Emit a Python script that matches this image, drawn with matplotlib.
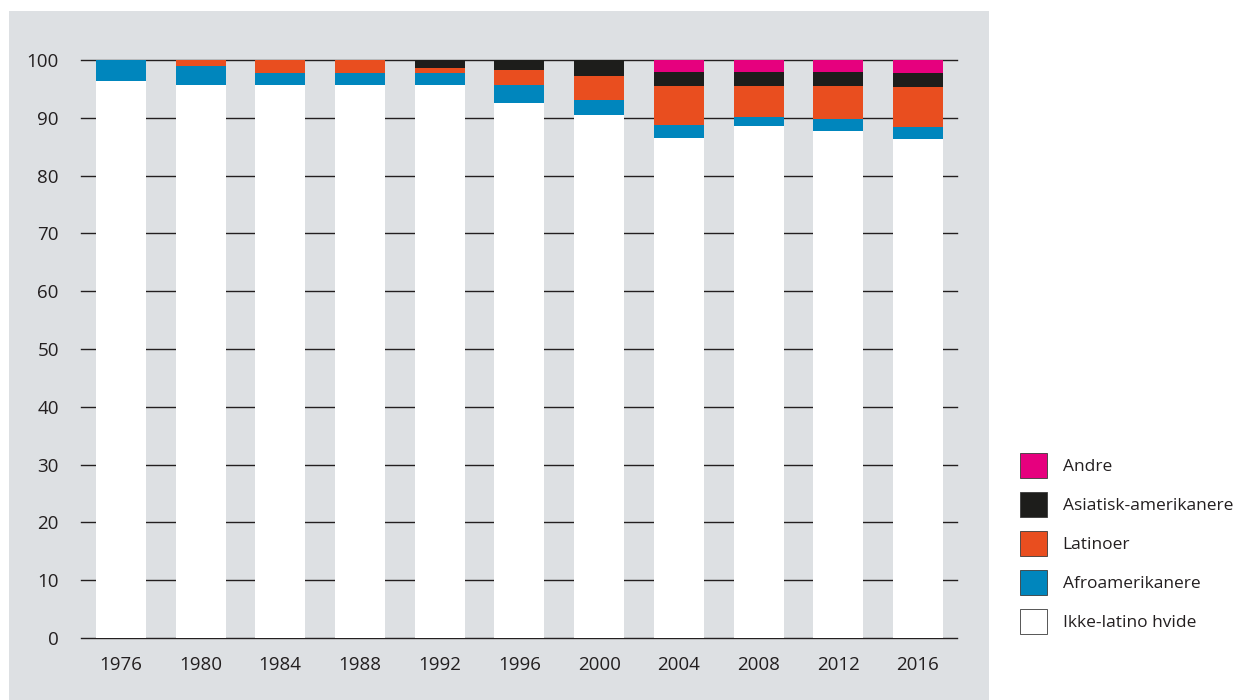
import matplotlib.pyplot as plt
import numpy as np
from matplotlib.patches import Patch, Rectangle

plt.rcParams['font.family'] = ['Open Sans', 'DejaVu Sans']

# Data (percent of voters)
years = ['1976', '1980', '1984', '1988', '1992', '1996', '2000', '2004', '2008', '2012', '2016']
hvide = [96.4, 95.7, 95.7, 95.7, 95.7, 92.6, 90.5, 86.5, 88.6, 87.7, 86.3]
afro = [3.6, 3.2, 2.05, 2.05, 2.05, 3.1, 2.6, 2.25, 1.5, 2.1, 2.1]
latino = [0.0, 1.1, 2.25, 2.25, 0.95, 2.6, 4.1, 6.75, 5.4, 5.7, 6.9]
asiat = [0.0, 0.0, 0.0, 0.0, 1.3, 1.7, 2.8, 2.4, 2.4, 2.4, 2.45]
andre = [0.0, 0.0, 0.0, 0.0, 0.0, 0.0, 0.0, 2.1, 2.1, 2.1, 2.25]

series = [
    ('Ikke-latino hvide', hvide, '#ffffff'),
    ('Afroamerikanere', afro, '#0086bd'),
    ('Latinoer', latino, '#e94e1f'),
    ('Asiatisk-amerikanere', asiat, '#1d1d1b'),
    ('Andre', andre, '#e6007e'),
]

fig = plt.figure(figsize=(12.49, 7), dpi=100)
fig.patch.set_facecolor('white')
# grey panel behind the plot
fig.patches.append(Rectangle((9 / 1249, 0), 980 / 1249, 689 / 700,
                             transform=fig.transFigure, facecolor='#dde0e3',
                             edgecolor='none', zorder=-5))

ax = fig.add_axes([81 / 1249, 62 / 700, 876 / 1249, 578 / 700])
ax.set_facecolor('none')

x = np.arange(len(years))
bottom = np.zeros(len(years))
for name, vals, col in series:
    vals = np.array(vals)
    ax.bar(x, vals, bottom=bottom, width=0.627, color=col, edgecolor='none', zorder=3)
    bottom += vals

ax.set_xlim(-0.5, 10.49)
ax.set_ylim(0, 100)
ax.set_yticks(range(0, 101, 10))
ax.set_xticks(x)
ax.set_xticklabels(years)
ax.yaxis.grid(True, color='#231f20', linewidth=1.0, zorder=1)
ax.set_axisbelow(True)
for gl in ax.get_ygridlines():
    gl.set_clip_on(False)
for s in ax.spines.values():
    s.set_visible(False)
ax.tick_params(axis='both', length=0, labelsize=13.5, colors='#231f20')
ax.tick_params(axis='y', pad=16)
ax.tick_params(axis='x', pad=13)

handles = [Patch(facecolor=col, edgecolor='#3a3a3a', linewidth=0.6, label=name)
           for name, vals, col in series][::-1]
fig.legend(handles=handles, loc='upper left', bbox_to_anchor=(1011 / 1249, 1 - 444 / 700),
           frameon=False, fontsize=12.5, handlelength=1.55, handleheight=1.85,
           labelspacing=0.8, handletextpad=0.92, borderpad=0, labelcolor='#231f20')

fig.savefig('out.png', dpi=100)
